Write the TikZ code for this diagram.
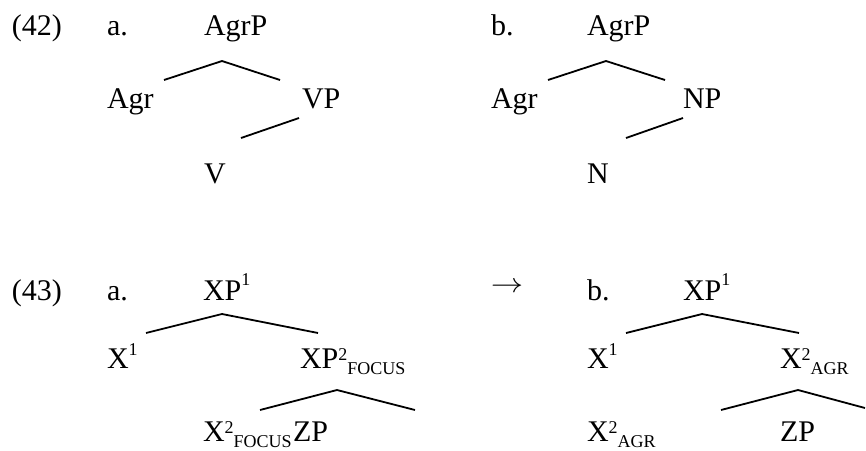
\documentclass[tikz,border=0pt]{standalone}
\usepackage{fontspec}
\setmainfont{Liberation Serif}
\newcommand\mysup[2]{\raisebox{#1}{\fontsize{18}{18}\selectfont #2}}
\newcommand\mysub[1]{\raisebox{-6.5pt}{\fontsize{18}{18}\selectfont #1}}
\begin{document}
\begin{tikzpicture}[x=1pt,y=-1pt,
  lab/.style={anchor=base west,inner sep=0pt,outer sep=0pt,font=\fontsize{30}{30}\selectfont},
  branch/.style={line width=1.8pt,line join=miter}]
\useasboundingbox (0,0) rectangle (866,450);
% (42)
\node[lab] (ex42) at (12,35) {(42)};
\node[lab] (a42) at (107,35) {a.};
\node[lab] (AgrPa) at (204,35) {AgrP};
\node[lab] (Agra) at (107,108) {Agr};
\node[lab] (VPa) at (302,108) {VP};
\node[lab] (Va) at (204,183) {V};
\node[lab] (b42) at (491,35) {b.};
\node[lab] (AgrPb) at (587,35) {AgrP};
\node[lab] (Agrb) at (491,108) {Agr};
\node[lab] (NPb) at (683,108) {NP};
\node[lab] (Nb) at (587,183) {N};
% (43)
\node[lab] (ex43) at (12,300) {(43)};
\node[lab] (a43) at (107,300) {a.};
\node[lab] (XPa) at (203,300) {XP\mysup{15pt}{1}};
\node[lab] (X1a) at (107,368) {X\mysup{13pt}{1}};
\node[lab] (XP2a) at (300,368) {XP\mysup{8pt}{2}\mysub{FOCUS}};
\node[lab] (X2a) at (203,441) {X\mysup{8pt}{2}\mysub{FOCUS}};
\node[lab] (ZPa) at (293,441) {ZP};
\node[inner sep=0pt,font=\fontsize{31}{31}\selectfont] (arr) at (507,287) {\scalebox{1.3}[1.1]{$\rightarrow$}};
\node[lab] (b43) at (587,300) {b.};
\node[lab] (XPb) at (683,300) {XP\mysup{15pt}{1}};
\node[lab] (X1b) at (587,368) {X\mysup{13pt}{1}};
\node[lab] (X2b) at (780,368) {X\mysup{8pt}{2}\mysub{AGR}};
\node[lab] (X2bb) at (587,441) {X\mysup{8pt}{2}\mysub{AGR}};
\node[lab] (ZPb) at (780,441) {ZP};
% branch points
\coordinate (pa1) at (222,61); \coordinate (la1) at (164,80); \coordinate (ra1) at (280,80);
\coordinate (pa2) at (299,118); \coordinate (la2) at (241,138);
\coordinate (pb1) at (606,61); \coordinate (lb1) at (548,80); \coordinate (rb1) at (665,80);
\coordinate (pb2) at (683,118); \coordinate (lb2) at (626,138);
\coordinate (pc1) at (222,314); \coordinate (lc1) at (146,333); \coordinate (rc1) at (318,333);
\coordinate (pc2) at (337,390); \coordinate (lc2) at (260,410); \coordinate (rc2) at (415,410);
\coordinate (pd1) at (702,314); \coordinate (ld1) at (626,333); \coordinate (rd1) at (799,333);
\coordinate (pd2) at (798,390); \coordinate (ld2) at (721,410); \coordinate (rd2) at (865,408);
\draw[branch] (la1) -- (pa1) -- (ra1);
\draw[branch] (pa2) -- (la2);
\draw[branch] (lb1) -- (pb1) -- (rb1);
\draw[branch] (pb2) -- (lb2);
\draw[branch] (lc1) -- (pc1) -- (rc1);
\draw[branch] (lc2) -- (pc2) -- (rc2);
\draw[branch] (ld1) -- (pd1) -- (rd1);
\draw[branch] (ld2) -- (pd2) -- (rd2);
\end{tikzpicture}
\end{document}
